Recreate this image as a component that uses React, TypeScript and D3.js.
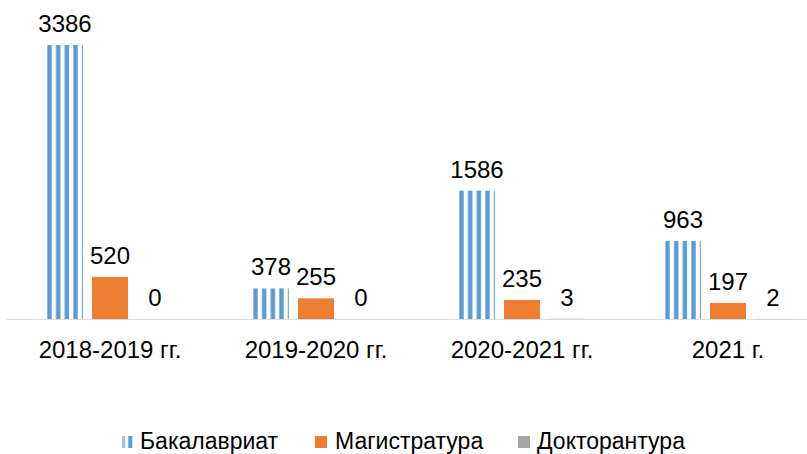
import React from "react";
import * as d3 from "d3";

const categories = ["2018-2019 гг.", "2019-2020 гг.", "2020-2021 гг.", "2021 г."];
const seriesNames = ["Бакалавриат", "Магистратура", "Докторантура"];
const bakalavriat = [3386, 378, 1586, 963];
const magistratura = [520, 255, 235, 197];
const doktorantura = [0, 0, 3, 2];
const seriesColors = ["#5B9BD5", "#ED7D31", "#A5A5A5"];

const W = 807;
const H = 454;
const FONT = "'Liberation Sans', Arial, sans-serif";

export default function App() {
  const values = [bakalavriat, magistratura, doktorantura];
  const x0 = d3.scaleBand<string>().domain(categories).range([7, 831]).padding(0);
  const x1 = d3
    .scaleBand<string>()
    .domain(seriesNames)
    .range([0, x0.bandwidth()])
    .paddingInner(0.2)
    .paddingOuter(0.889);
  const maxV = d3.max(bakalavriat) as number;
  const y = d3.scaleLinear().domain([0, maxV]).range([319, 45]);
  const bw = x1.bandwidth();

  const legendItems = [
    { name: seriesNames[0], mx: 122, tx: 140 },
    { name: seriesNames[1], mx: 315, tx: 335 },
    { name: seriesNames[2], mx: 518, tx: 537 },
  ];

  return (
    <svg
      width={W}
      height={H}
      style={{ position: "absolute", left: 0, top: 0, background: "#fff" }}
      fontFamily={FONT}
    >
      <defs>
        {categories.map((c, i) => {
          const bx = (x0(c) as number) + (x1(seriesNames[0]) as number);
          return (
            <pattern
              key={c}
              id={`stripe-${i}`}
              patternUnits="userSpaceOnUse"
              x={bx}
              y={0}
              width={8.67}
              height={10}
            >
              <rect x={0.3} y={0} width={4.4} height={10} fill={seriesColors[0]} />
            </pattern>
          );
        })}
      </defs>
      <line x1={7} x2={W} y1={y(0) + 0.5} y2={y(0) + 0.5} stroke="#D9D9D9" strokeWidth={1} />
      {categories.map((c, ci) => (
        <g key={c}>
          {seriesNames.map((s, si) => {
            const v = values[si][ci];
            const bx = (x0(c) as number) + (x1(s) as number);
            const top = y(v);
            return (
              <g key={s}>
                {v > 0 && (
                  <rect
                    x={bx}
                    y={top}
                    width={bw}
                    height={y(0) - top}
                    fill={si === 0 ? `url(#stripe-${ci})` : seriesColors[si]}
                  />
                )}
                <text
                  x={bx + bw / 2}
                  y={top - 13}
                  textAnchor="middle"
                  fontSize={24}
                  fill="#000"
                >
                  {v}
                </text>
              </g>
            );
          })}
          <text
            x={(x0(c) as number) + x0.bandwidth() / 2}
            y={358}
            textAnchor="middle"
            fontSize={24}
            fill="#000"
          >
            {c}
          </text>
        </g>
      ))}
      {legendItems.map((it, i) => (
        <g key={it.name}>
          {i === 0 ? (
            <g>
              <rect x={it.mx} y={436} width={3.3} height={12} fill="#9DC3E6" />
              <rect x={it.mx + 6.3} y={436} width={4} height={12} fill={seriesColors[0]} />
            </g>
          ) : (
            <rect x={it.mx} y={436} width={12} height={12} fill={seriesColors[i]} />
          )}
          <text x={it.tx} y={449} fontSize={23} fill="#000">
            {it.name}
          </text>
        </g>
      ))}
    </svg>
  );
}
